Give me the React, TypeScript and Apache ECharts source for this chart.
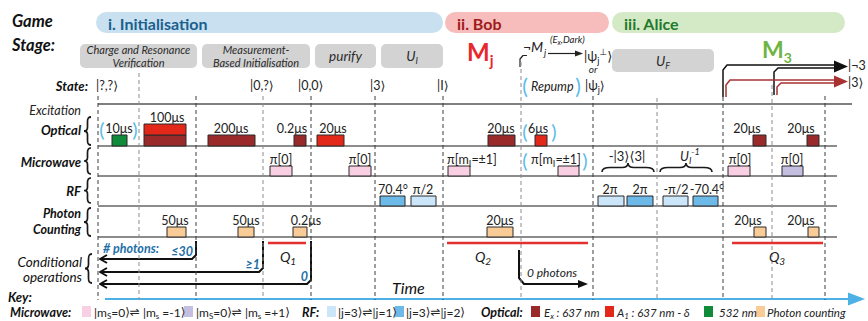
import React, { useEffect, useRef } from "react";
import * as echarts from "echarts";

const W = 868;
const H = 321;
const FONT = "Lato, 'Noto Sans', 'DejaVu Sans', sans-serif";
const SYM_FONT = "'DejaVu Sans', 'Noto Sans', sans-serif";

type Part = [string, "n" | "b" | "p"];

// ---------------- data ----------------
const stages = [
  { name: "i. Initialisation", start: 96, end: 443, kind: "init" },
  { name: "ii. Bob", start: 445, end: 609, kind: "bob" },
  { name: "iii. Alice", start: 612, end: 845, kind: "alice" },
];

const blocks = [
  { lines: [[["Charge and Resonance", "n"]], [["Verification", "n"]]] as Part[][], start: 80, end: 197, row: 0 },
  { lines: [[["Measurement-", "n"]], [["Based Initialisation", "n"]]] as Part[][], start: 202, end: 310, row: 0 },
  { lines: [[["purify", "n"]]] as Part[][], start: 315, end: 376, row: 0 },
  { lines: [[["U", "n"], ["I", "b"]]] as Part[][], start: 381, end: 443, row: 0 },
  { lines: [[["U", "n"], ["F", "b"]]] as Part[][], start: 612, end: 714, row: 1 },
];

const boundaries = [
  { t: 98, top: 96, minor: false },
  { t: 139, top: 73, minor: true },
  { t: 196, top: 96, minor: false },
  { t: 263, top: 96, minor: true },
  { t: 311, top: 96, minor: false },
  { t: 375, top: 96, minor: false },
  { t: 443, top: 96, minor: false },
  { t: 521, top: 62, minor: true },
  { t: 593, top: 96, minor: false },
  { t: 657, top: 98, minor: true },
  { t: 723, top: 97, minor: false },
  { t: 772, top: 85, minor: true },
  { t: 825, top: 96, minor: false },
];

const opticalPulses = [
  { start: 112, end: 127, kind: "green", label: [["10μs", "n"]] as Part[], lx: 119 },
  { start: 144, end: 186, kind: "ex" },
  { start: 144, end: 186, kind: "a1", level: 1, label: [["100μs", "n"]] as Part[], lx: 167 },
  { start: 208, end: 255, kind: "ex", label: [["200μs", "n"]] as Part[], lx: 231 },
  { start: 294, end: 306, kind: "ex", label: [["0.2μs", "n"]] as Part[], lx: 292 },
  { start: 317, end: 344, kind: "a1", label: [["20μs", "n"]] as Part[], lx: 333 },
  { start: 488, end: 515, kind: "ex", label: [["20μs", "n"]] as Part[], lx: 501 },
  { start: 535, end: 547, kind: "a1", label: [["6μs", "n"]] as Part[], lx: 538 },
  { start: 753, end: 766, kind: "ex", label: [["20μs", "n"]] as Part[], lx: 747 },
  { start: 807, end: 819, kind: "ex", label: [["20μs", "n"]] as Part[], lx: 801 },
];

const microwavePulses = [
  { start: 270, end: 292, kind: "mw0", label: [["π[0]", "n"]] as Part[], lx: 281 },
  { start: 349, end: 371, kind: "mw0", label: [["π[0]", "n"]] as Part[], lx: 360 },
  { start: 448, end: 470, kind: "mw0", label: [["π[m", "n"], ["I", "b"], ["=±1]", "n"]] as Part[], lx: 472 },
  { start: 558, end: 579, kind: "mw0", label: [["π[m", "n"], ["I", "b"], ["=±1]", "n"]] as Part[], lx: 556 },
  { start: 728, end: 750, kind: "mw0", label: [["π[0]", "n"]] as Part[], lx: 740 },
  { start: 782, end: 803, kind: "mw1", label: [["π[0]", "n"]] as Part[], lx: 792 },
];

const rfPulses = [
  { start: 380, end: 405, kind: "rf2", label: [["70.4°", "n"]] as Part[], lx: 393 },
  { start: 411, end: 436, kind: "rf1", label: [["π/2", "n"]] as Part[], lx: 423 },
  { start: 598, end: 624, kind: "rf1", label: [["2π", "n"]] as Part[], lx: 610 },
  { start: 627, end: 653, kind: "rf2", label: [["2π", "n"]] as Part[], lx: 640 },
  { start: 663, end: 688, kind: "rf1", label: [["-π/2", "n"]] as Part[], lx: 676 },
  { start: 693, end: 718, kind: "rf2", label: [["-70.4°", "n"]] as Part[], lx: 707 },
];

const photonPulses = [
  { start: 167, end: 186, kind: "pc", label: [["50μs", "n"]] as Part[], lx: 175 },
  { start: 238, end: 254, kind: "pc", label: [["50μs", "n"]] as Part[], lx: 246 },
  { start: 293, end: 307, kind: "pc", label: [["0.2μs", "n"]] as Part[], lx: 306 },
  { start: 487, end: 513, kind: "pc", label: [["20μs", "n"]] as Part[], lx: 500 },
  { start: 754, end: 766, kind: "pc", label: [["20μs", "n"]] as Part[], lx: 748 },
  { start: 808, end: 819, kind: "pc", label: [["20μs", "n"]] as Part[], lx: 801 },
];

const qWindows = [
  { start: 268, end: 306, index: "1", lx: 288 },
  { start: 447, end: 588, index: "2", lx: 483 },
  { start: 732, end: 823, index: "3", lx: 777 },
];

const conditionalBranches = [
  { t: 196, label: "≤30" },
  { t: 263, label: "≥1" },
  { t: 311, label: "0" },
];

const stateLabels: { t: number; parts: Part[] }[] = [
  { t: 96, parts: [["|?,?⟩", "n"]] },
  { t: 250, parts: [["|0,?⟩", "n"]] },
  { t: 298, parts: [["|0,0⟩", "n"]] },
  { t: 370, parts: [["|3⟩", "n"]] },
  { t: 437, parts: [["|I⟩", "n"]] },
  { t: 585, parts: [["|ψ", "n"], ["j", "b"], ["⟩", "n"]] },
];

const COLORS: Record<string, string> = {
  ex: "#9a2a2a",
  a1: "#e3281a",
  green: "#0f8b3a",
  mw0: "#f8cfe3",
  mw1: "#c4bfe0",
  rf1: "#cbe6f8",
  rf2: "#6db9e8",
  pc: "#f9cb96",
};

const STAGE_STYLE: Record<string, { fill: string; text: string }> = {
  init: { fill: "#c8e0f0", text: "#1b5f8e" },
  bob: { fill: "#f7bcbc", text: "#9e1b1b" },
  alice: { fill: "#d4e9c6", text: "#1f7a2b" },
};

// ---------------- layout ----------------
const ROW_BASE: Record<string, number> = { optical: 146, microwave: 176, rf: 206, photon: 237 };
const ROW_H: Record<string, number> = { optical: 11, microwave: 10, rf: 10, photon: 10 };
const COND_Y = [259, 272, 284];
const Q_Y = 243;
const BLUE_PAREN = "#5bbce8";
const COND_BLUE = "#1e6fa8";
const SYMS = "⟩⟨⇌";

// ---------------- helpers ----------------
function rich(parts: Part[], size: number, o: any = {}) {
  const common = {
    fontFamily: FONT,
    fontStyle: o.italic ? "italic" : "normal",
    fontWeight: o.bold ? "bold" : "normal",
    fill: o.color || "#222",
  };
  const hasScript = parts.some((p) => p[1] !== "n");
  const lh = o.lh || Math.round(size * (hasScript ? 1.35 : 1.1));
  const small = Math.max(6, Math.round(size * (o.subScale || 0.68)));
  const styles: any = {
    n: { ...common, fontSize: size, lineHeight: lh },
    b: { ...common, fontSize: small, lineHeight: lh, verticalAlign: "bottom" },
    p: { ...common, fontSize: small, lineHeight: lh, verticalAlign: "top" },
  };
  styles.nk = { ...styles.n, fontFamily: SYM_FONT, fontStyle: "normal", fontWeight: "normal", fontSize: size * 1.0 };
  styles.bk = { ...styles.b, fontFamily: SYM_FONT, fontStyle: "normal" };
  styles.pk = { ...styles.p, fontFamily: SYM_FONT, fontStyle: "normal" };
  let text = "";
  parts.forEach(([t, k]) => {
    let buf = "";
    for (const ch of Array.from(t)) {
      if (SYMS.indexOf(ch) >= 0) {
        if (buf) text += `{${k}|${buf}}`;
        buf = "";
        text += `{${k}k|${ch}}`;
      } else buf += ch;
    }
    if (buf) text += `{${k}|${buf}}`;
  });
  return { text, rich: styles };
}

function T(x: number, y: number, parts: Part[] | string, o: any = {}) {
  const p: Part[] = typeof parts === "string" ? [[parts, "n"]] : parts;
  const r = rich(p, o.size || 12, o);
  return {
    type: "text",
    x,
    y,
    silent: true,
    z: o.z || 10,
    style: {
      text: r.text,
      rich: r.rich,
      align: o.align || "left",
      verticalAlign: o.va || "middle",
      fontFamily: FONT,
      fontSize: o.size || 12,
    },
  };
}

function line(x1: number, y1: number, x2: number, y2: number, stroke: string, lineWidth = 1, dash?: number[]) {
  return { type: "line", silent: true, shape: { x1, y1, x2, y2 }, style: { stroke, lineWidth, lineDash: dash } };
}

function poly(points: number[][], stroke: string, lineWidth = 1.6) {
  return { type: "polyline", silent: true, shape: { points }, style: { stroke, lineWidth, fill: "none", lineJoin: "round" } };
}

function tri(points: number[][], fill: string) {
  return { type: "polygon", silent: true, shape: { points }, style: { fill } };
}

let registered = false;
function registerShapes() {
  if (registered) return;
  registered = true;
  const lb = "M7,0 C4,0 3.5,1.5 3.5,4.5 L3.5,9.5 C3.5,12 2.5,13 0,13 C2.5,13 3.5,14 3.5,16.5 L3.5,21.5 C3.5,24.5 4,26 7,26";
  echarts.graphic.registerShape("lbrace", echarts.graphic.extendPath(lb, {}) as any);
  const hb = "M0,9 C0,5.5 3,4.5 8,4.5 L20,4.5 C24,4.5 26,3 26,0 C26,3 28,4.5 32,4.5 L44,4.5 C49,4.5 52,5.5 52,9";
  echarts.graphic.registerShape("hbrace", echarts.graphic.extendPath(hb, {}) as any);
}

function brace(x: number, y: number, h: number) {
  return { type: "lbrace", x, y, scaleY: h / 26, silent: true, style: { fill: "none", stroke: "#1a1a1a", lineWidth: 1.7 } };
}

function paren(x: number, y: number, ch: string, size = 21) {
  return T(x, y, [[ch, "n"]], { size, color: BLUE_PAREN, align: "center", lh: size });
}

// ---------------- option ----------------
function buildOption() {
  const allPulses = [
    ...opticalPulses.map((p) => ({ ...p, row: "optical" })),
    ...microwavePulses.map((p) => ({ ...p, row: "microwave" })),
    ...rfPulses.map((p) => ({ ...p, row: "rf" })),
    ...photonPulses.map((p) => ({ ...p, row: "photon" })),
  ] as any[];

  const g: any[] = [];

  // Game stage title
  g.push(T(12, 21, "Game", { size: 16.5, bold: true, italic: true, color: "#111" }));
  g.push(T(12, 45, "Stage:", { size: 16.5, bold: true, italic: true, color: "#111" }));

  // M_j, M_3
  g.push(T(467, 51, [["M", "n"], ["j", "b"]], { size: 24, bold: true, color: "#e8262b", subScale: 0.62 }));
  g.push(T(762, 49, [["M", "n"], ["3", "b"]], { size: 23, bold: true, color: "#70b440", subScale: 0.62 }));

  // ¬M_j^(Ex,Dark) arrow
  g.push(poly([[520, 67], [520, 59], [523, 55.5], [527, 55.5]], "#222", 1.2));
  g.push(T(523, 46, [["¬M", "n"]], { size: 14, italic: true }));
  g.push(T(544, 52, [["j", "n"]], { size: 9.5, italic: true }));
  g.push(T(550, 39, [["(E", "n"], ["x", "b"], [",Dark)", "n"]], { size: 9.5, italic: true, subScale: 0.75 }));
  g.push(line(548, 53.5, 578, 53.5, "#222", 1.2));
  g.push(tri([[575, 50.5], [583, 53.5], [575, 56.5]], "#222"));
  g.push(T(584, 56, [["|ψ", "n"], ["j", "b"], ["⊥", "p"], ["⟩", "n"]], { size: 13 }));
  g.push(T(593, 69, "or", { size: 10, italic: true, align: "center" }));

  // State row
  g.push(T(88, 86, "State:", { size: 13, bold: true, italic: true, align: "right", color: "#111" }));
  stateLabels.forEach((s) => g.push(T(s.t, 85, s.parts, { size: 12.5 })));
  g.push(paren(525, 85, "(", 21));
  g.push(T(531, 86, "Repump", { size: 12.5, italic: true }));
  g.push(paren(578, 85, ")", 21));

  // top-right M3 arrows
  g.push(poly([[723, 97], [723, 70], [727, 65], [841, 65]], "#111", 1.5));
  g.push(poly([[774, 95], [774, 72], [778, 68], [841, 68]], "#111", 1.5));
  g.push(tri([[834, 60.5], [848, 66.5], [834, 72.5]], "#111"));
  g.push(poly([[726, 97], [726, 85], [730, 80], [841, 80]], "#a83232", 1.5));
  g.push(poly([[777, 95], [777, 87], [781, 83], [841, 83]], "#a83232", 1.5));
  g.push(tri([[834, 75.5], [848, 81.5], [834, 87.5]], "#a83232"));
  g.push(T(848, 65, "|¬3", { size: 12.5 }));
  g.push(T(848, 82, "|3⟩", { size: 12.5 }));

  // ticks / baselines
  g.push(line(98, 104, 852, 104, "#555", 1.4));
  Object.keys(ROW_BASE).forEach((k) => g.push(line(98, ROW_BASE[k], 837, ROW_BASE[k], "#666", 1.4)));

  // channel labels + braces
  g.push(T(81, 110, "Excitation", { size: 12.5, italic: true, align: "right" }));
  g.push(T(81, 130, "Optical", { size: 13, bold: true, italic: true, align: "right", color: "#111" }));
  g.push(brace(84, 117, 28));
  g.push(T(81, 162, "Microwave", { size: 13, bold: true, italic: true, align: "right", color: "#111" }));
  g.push(brace(84, 148, 26));
  g.push(T(81, 191, "RF", { size: 13, bold: true, italic: true, align: "right", color: "#111" }));
  g.push(brace(84, 178, 25));
  g.push(T(81, 213, "Photon", { size: 12.5, bold: true, italic: true, align: "right", color: "#111", lh: 12 }));
  g.push(T(81, 229, "Counting", { size: 12.5, bold: true, italic: true, align: "right", color: "#111", lh: 12 }));
  g.push(brace(84, 208, 28));
  g.push(T(82, 262, "Conditional", { size: 13.5, italic: true, align: "right", color: "#111", lh: 14 }));
  g.push(T(82, 277, "operations", { size: 13.5, italic: true, align: "right", color: "#111", lh: 14 }));
  g.push(brace(85, 254, 29));
  g.push(T(8, 297, "Key:", { size: 13, bold: true, italic: true, color: "#111" }));

  // blue parens around optional pulses
  g.push(paren(102, 129, "(", 20));
  g.push(paren(135, 129, ")", 20));
  g.push(paren(525, 131, "(", 20));
  g.push(paren(554, 131, ")", 20));
  g.push(paren(525, 160, "(", 20));
  g.push(paren(585, 160, ")", 20));

  // horizontal braces above RF
  g.push({ type: "hbrace", x: 602, y: 163, silent: true, style: { fill: "none", stroke: "#1a1a1a", lineWidth: 1.6 } });
  g.push({ type: "hbrace", x: 660, y: 163, silent: true, style: { fill: "none", stroke: "#1a1a1a", lineWidth: 1.6 } });
  g.push(T(627, 156, "-|3⟩⟨3|", { size: 13, align: "center" }));
  g.push(T(680, 156, [["U", "n"], ["I", "b"], ["-1", "p"]], { size: 13, italic: true }));

  // conditional operations
  conditionalBranches.forEach((c, i) => {
    const y = COND_Y[i];
    g.push(poly([[c.t, 241], [c.t, y - 4], [c.t - 4, y], [101, y]], "#111", 2));
    g.push(poly([[107, y - 4], [100, y], [107, y + 4]], "#111", 2));
    g.push(T(c.t - 3, y - 8, c.label, { size: 12.5, bold: true, italic: true, color: COND_BLUE, align: "right" }));
  });
  g.push(T(103, 248, "# photons:", { size: 12.5, bold: true, italic: true, color: COND_BLUE }));
  g.push(poly([[519, 250], [519, 278], [524, 284], [580, 284]], "#111", 2));
  g.push(tri([[578, 280], [588, 284], [578, 288]], "#111"));
  g.push(T(527, 272, "0 photons", { size: 12, italic: true }));
  g.push(T(392, 287, "Time", { size: 16, italic: true, color: "#111" }));

  // key line
  g.push(line(105, 299, 852, 299, "#4cb2e6", 2));
  g.push(tri([[848, 292.5], [865, 299], [848, 305.5]], "#4cb2e6"));

  // legend
  const LY = 312;
  const sq = (x: number, fill: string) => ({ type: "rect", silent: true, shape: { x, y: 306, width: 9, height: 11 }, style: { fill } });
  g.push(T(10, LY, "Microwave:", { size: 12.5, bold: true, italic: true, color: "#111" }));
  g.push(sq(82, COLORS.mw0));
  g.push(T(94, LY, [["|m", "n"], ["S", "b"], ["=0⟩⇌ |m", "n"], ["s", "b"], [" =-1⟩", "n"]], { size: 12 }));
  g.push(sq(184, COLORS.mw1));
  g.push(T(196, LY, [["|m", "n"], ["S", "b"], ["=0⟩⇌ |m", "n"], ["s", "b"], [" =+1⟩", "n"]], { size: 12 }));
  g.push(T(302, LY, "RF:", { size: 12.5, bold: true, italic: true, color: "#111" }));
  g.push(sq(327, COLORS.rf1));
  g.push(T(338, LY, "|j=3⟩⇌|j=1⟩", { size: 12 }));
  g.push(sq(395, COLORS.rf2));
  g.push(T(406, LY, "|j=3⟩⇌|j=2⟩", { size: 12 }));
  g.push(T(481, LY, "Optical:", { size: 12.5, bold: true, italic: true, color: "#111" }));
  g.push(sq(531, COLORS.ex));
  g.push(T(544, LY, [["E", "n"], ["x", "b"], [" : 637 nm", "n"]], { size: 11.5, italic: true }));
  g.push(sq(605, COLORS.a1));
  g.push(T(617, LY, [["A", "n"], ["1", "b"], [" : 637 nm - δ", "n"]], { size: 11.5, italic: true }));
  g.push(sq(704, COLORS.green));
  g.push(T(719, LY, "532 nm", { size: 11.5, italic: true }));
  g.push(sq(756, COLORS.pc));
  g.push(T(767, LY, "Photon counting", { size: 11.5, italic: true }));

  const stageSeries = {
    type: "custom",
    name: "stages",
    coordinateSystem: "cartesian2d",
    z: 3,
    silent: true,
    data: stages.map((s) => [s.start, s.end]),
    renderItem: (params: any, api: any) => {
      const s = stages[params.dataIndex];
      const st = STAGE_STYLE[s.kind];
      const a = api.coord([api.value(0), 12]);
      const b = api.coord([api.value(1), 33]);
      const r = rich([[s.name, "n"]], 16, { bold: true, color: st.text });
      return {
        type: "group",
        children: [
          { type: "rect", shape: { x: a[0], y: a[1], width: b[0] - a[0], height: b[1] - a[1], r: (b[1] - a[1]) / 2 }, style: { fill: st.fill } },
          { type: "text", x: a[0] + 12, y: (a[1] + b[1]) / 2 + 0.5, style: { text: r.text, rich: r.rich, align: "left", verticalAlign: "middle" } },
        ],
      };
    },
  };

  const blockSeries = {
    type: "custom",
    name: "blocks",
    coordinateSystem: "cartesian2d",
    z: 3,
    silent: true,
    data: blocks.map((b) => [b.start, b.end]),
    renderItem: (params: any, api: any) => {
      const bl = blocks[params.dataIndex];
      const top = bl.row === 0 ? 44 : 49;
      const bot = bl.row === 0 ? 68 : 72;
      const a = api.coord([api.value(0), top]);
      const b = api.coord([api.value(1), bot]);
      const cx = (a[0] + b[0]) / 2;
      const cy = (a[1] + b[1]) / 2;
      const children: any[] = [
        { type: "rect", shape: { x: a[0], y: a[1], width: b[0] - a[0], height: b[1] - a[1], r: 5 }, style: { fill: "#d3d3d3" } },
      ];
      const n = bl.lines.length;
      bl.lines.forEach((ln, i) => {
        const single = n === 1;
        const size = single ? 13.5 : 11;
        const r = rich(ln, size, { italic: true, color: "#2a2a2a", lh: single ? undefined : 12 });
        children.push({
          type: "text",
          x: cx,
          y: single ? cy : cy + (i - 0.5) * 12.5,
          style: { text: r.text, rich: r.rich, align: "center", verticalAlign: "middle" },
        });
      });
      return { type: "group", children };
    },
  };

  const boundarySeries = {
    type: "custom",
    name: "boundaries",
    coordinateSystem: "cartesian2d",
    z: 2,
    silent: true,
    data: boundaries.map((b) => [b.t, b.top]),
    renderItem: (params: any, api: any) => {
      const b = boundaries[params.dataIndex];
      const p0 = api.coord([api.value(0), api.value(1)]);
      const p1 = api.coord([api.value(0), 300]);
      return {
        type: "line",
        shape: { x1: p0[0], y1: p0[1], x2: p1[0], y2: p1[1] },
        style: { stroke: b.minor ? "#8c8c8c" : "#3c3c3c", lineWidth: 1, lineDash: [4, 3] },
      };
    },
  };

  const pulseSeries = {
    type: "custom",
    name: "pulses",
    coordinateSystem: "cartesian2d",
    z: 5,
    silent: true,
    data: allPulses.map((p) => [p.start, p.end, p.level || 0]),
    renderItem: (params: any, api: any) => {
      const p = allPulses[params.dataIndex];
      const base = ROW_BASE[p.row];
      const h = ROW_H[p.row];
      const lvl = api.value(2);
      const a = api.coord([api.value(0), base - h * (lvl + 1)]);
      const b = api.coord([api.value(1), base - h * lvl]);
      const children: any[] = [
        { type: "rect", shape: { x: a[0], y: a[1], width: b[0] - a[0], height: b[1] - a[1] }, style: { fill: COLORS[p.kind], stroke: "#2b2b2b", lineWidth: 1 } },
      ];
      if (p.label) {
        const c = api.coord([p.lx, base - h * (lvl + 1)]);
        const r = rich(p.label, 12.5, {});
        children.push({ type: "text", x: c[0], y: c[1] - 6.5, style: { text: r.text, rich: r.rich, align: "center", verticalAlign: "middle" } });
      }
      return { type: "group", children };
    },
  };

  const qSeries = {
    type: "custom",
    name: "readout",
    coordinateSystem: "cartesian2d",
    z: 5,
    silent: true,
    data: qWindows.map((q) => [q.start, q.end]),
    renderItem: (params: any, api: any) => {
      const q = qWindows[params.dataIndex];
      const a = api.coord([api.value(0), Q_Y]);
      const b = api.coord([api.value(1), Q_Y]);
      const c = api.coord([q.lx, Q_Y]);
      const r = rich([["Q", "n"], [q.index, "b"]], 14, { italic: true, color: "#222" });
      return {
        type: "group",
        children: [
          { type: "line", shape: { x1: a[0], y1: a[1], x2: b[0], y2: b[1] }, style: { stroke: "#e3312f", lineWidth: 2.6 } },
          { type: "text", x: c[0], y: c[1] + 13, style: { text: r.text, rich: r.rich, align: "center", verticalAlign: "middle" } },
        ],
      };
    },
  };

  return {
    animation: false,
    backgroundColor: "#ffffff",
    grid: { left: 0, right: 0, top: 0, bottom: 0 },
    xAxis: { type: "value", min: 0, max: W, show: false },
    yAxis: { type: "value", min: 0, max: H, inverse: true, show: false },
    tooltip: { show: false },
    series: [stageSeries, blockSeries, boundarySeries, pulseSeries, qSeries],
    graphic: { elements: g },
  };
}

export default function App() {
  const ref = useRef<HTMLDivElement>(null);
  useEffect(() => {
    document.body.style.margin = "0";
    registerShapes();
    const chart = echarts.init(ref.current as HTMLDivElement, null, { renderer: "svg" });
    chart.setOption(buildOption() as any);
    return () => chart.dispose();
  }, []);
  return <div ref={ref} style={{ width: W, height: H, background: "#fff" }} />;
}
